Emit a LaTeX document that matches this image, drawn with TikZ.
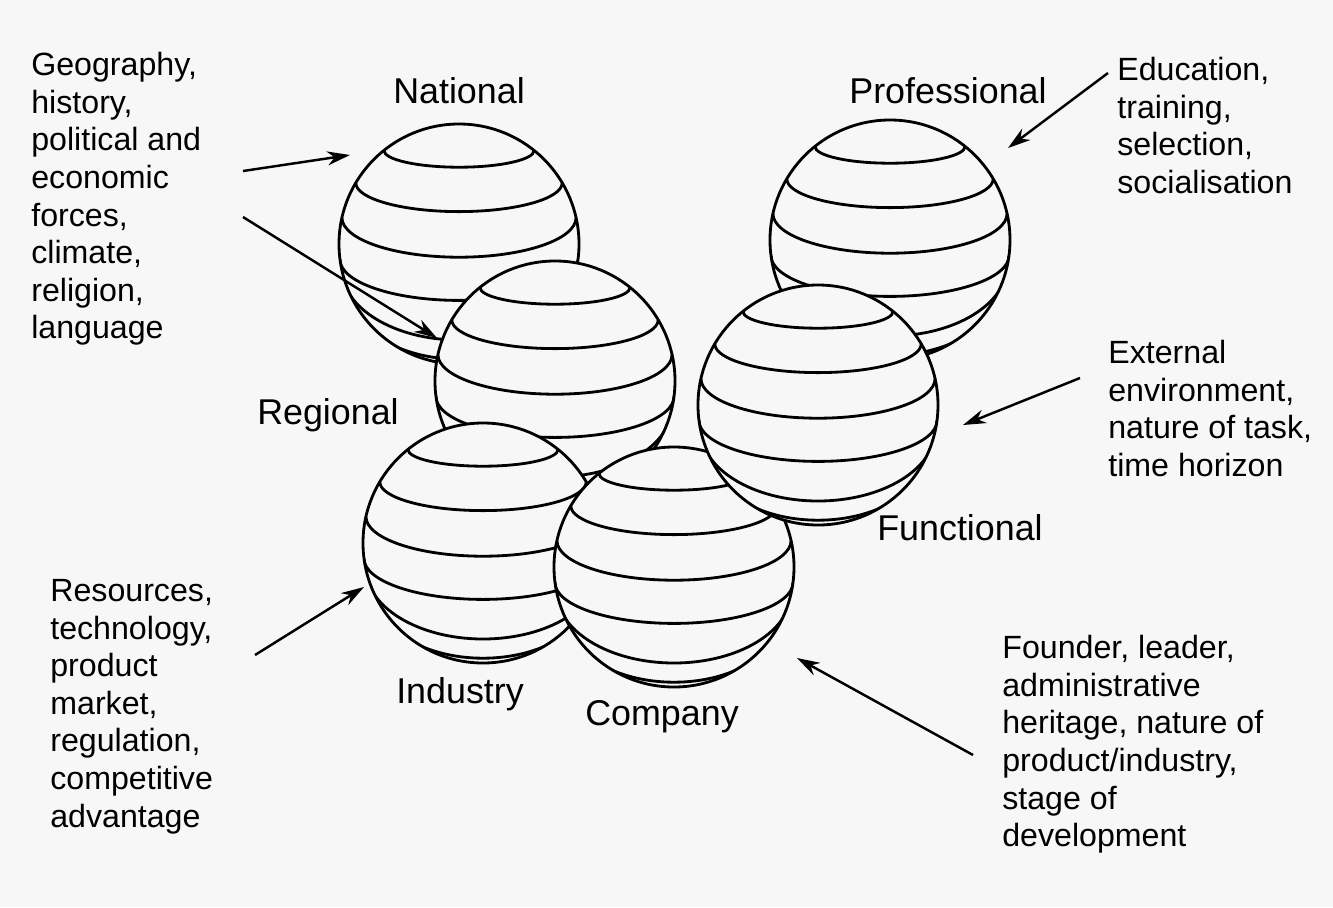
\documentclass[tikz,border=0pt]{standalone}
\usepackage{fontspec}
\setmainfont{Liberation Sans}
\usetikzlibrary{arrows.meta}
\definecolor{paper}{RGB}{247,247,247}

\tikzset{
  ball/.style={line width=1.6pt},
  cause/.style={anchor=north west,align=left,inner sep=0pt,font=\fontsize{18.3}{21.4}\selectfont},
  level/.style={anchor=base,inner sep=0pt,font=\fontsize{20.4}{24}\selectfont},
  push/.style={line width=1.4pt,-{Stealth[length=13pt,width=8pt]}}
}

\begin{document}
\begin{tikzpicture}[x=0.02cm,y=-0.02cm]
	% Paper
	\fill[paper] (0,0) rectangle (1333,907);

	% Spheres, back to front: national, professional, regional, industry, company, functional
	\foreach \cx/\cy in {459/244, 890/240, 555/381, 483/543, 674/567, 818/405}{
		\begin{scope}[shift={(\cx,\cy)}]
			\fill[paper] (0,0) circle[radius=120];
			\begin{scope}
				\clip (0,0) circle[radius=120];
				\foreach \lat/\sag in {0.78/0.14, 0.51/0.24, 0.22/0.33, -0.13/0.34, -0.20/0.60, -0.36/0.60}
					\draw[ball] ({-120*sqrt(1-(\lat)*(\lat))},{-120*(\lat)}) arc[start angle=180,end angle=0,x radius={120*sqrt(1-(\lat)*(\lat))},y radius={120*(\sag)}];
			\end{scope}
			\draw[ball] (0,0) circle[radius=120];
		\end{scope}
	}

	% Level names
	\node[level] (national) at (459,103) {National};
	\node[level] (professional) at (948,103) {Professional};
	\node[level] (regional) at (328,424) {Regional};
	\node[level] (functional) at (960,540) {Functional};
	\node[level] (industry) at (460,703) {Industry};
	\node[level] (company) at (662,725) {Company};

	% Influences
	\node[cause] (geo) at (31,52) {Geography,\\history,\\political and\\economic\\forces,\\climate,\\religion,\\language};
	\node[cause] (edu) at (1117,57) {Education,\\training,\\selection,\\socialisation};
	\node[cause] (env) at (1108,340) {External\\environment,\\nature of task,\\time horizon};
	\node[cause] (res) at (50,579) {Resources,\\technology,\\product\\market,\\regulation,\\competitive\\advantage};
	\node[cause] (fou) at (1002,635) {Founder, leader,\\administrative\\heritage, nature of\\product/industry,\\stage of\\development};

	% Arrows
	\coordinate (geoA) at (243,171);
	\coordinate (geoB) at (243,217);
	\coordinate (natIn) at (350,155);
	\coordinate (regIn) at (437,338);
	\draw[push] (geoA) -- (natIn);
	\draw[push] (geoB) -- (regIn);

	\coordinate (eduOut) at (1108,73);
	\coordinate (proIn) at (1008,148);
	\draw[push] (eduOut) -- (proIn);

	\coordinate (envOut) at (1080,378);
	\coordinate (funIn) at (963,425);
	\draw[push] (envOut) -- (funIn);

	\coordinate (resOut) at (255,655);
	\coordinate (indIn) at (364,587);
	\draw[push] (resOut) -- (indIn);

	\coordinate (fouOut) at (973,755);
	\coordinate (comIn) at (797,658);
	\draw[push] (fouOut) -- (comIn);
\end{tikzpicture}
\end{document}
